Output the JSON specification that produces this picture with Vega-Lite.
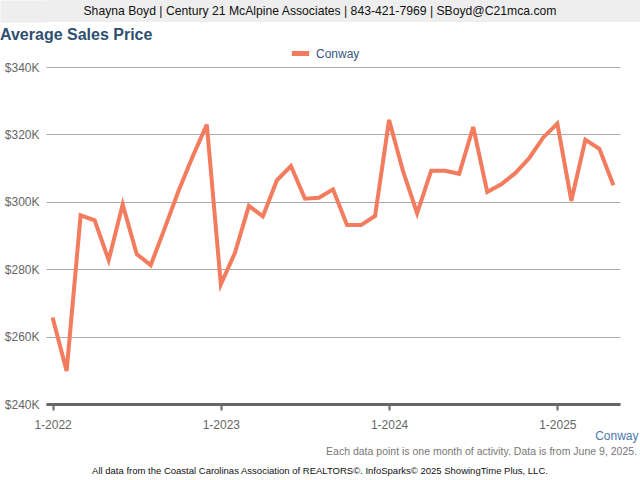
{
  "$schema": "https://vega.github.io/schema/vega-lite/v6.json",
  "padding": 0,
  "columns": 1,
  "align": "none",
  "spacing": 5,
  "config": {
    "view": {"stroke": null},
    "font": "Liberation Sans"
  },
  "concat": [
    {
      "width": 594,
      "height": 22,
      "view": {"fill": "#eeeeee", "stroke": null},
      "data": {"values": [{"t": "Shayna Boyd | Century 21 McAlpine Associates | 843-421-7969 | SBoyd@C21mca.com"}]},
      "mark": {"type": "text", "fontSize": 12.2, "color": "#111111", "dx": -23},
      "encoding": {
        "text": {"field": "t"},
        "y": {
          "datum": 0, "type": "quantitative",
          "scale": {"domain": [-1, 1]},
          "axis": {"labels": false, "ticks": false, "grid": false, "title": null, "domain": true, "domainColor": "#eeeeee", "domainWidth": 46, "offset": 23}
        }
      }
    },
    {
      "width": 574,
      "height": 337,
      "title": {"text": "Average Sales Price", "anchor": "start", "fontSize": 16, "fontWeight": "bold", "color": "#2e4f70", "offset": 18},
      "data": {"values": [
        {"m": "1-2022", "city": "Conway", "v": 265700},
        {"m": "2-2022", "city": "Conway", "v": 249800},
        {"m": "3-2022", "city": "Conway", "v": 296000},
        {"m": "4-2022", "city": "Conway", "v": 294500},
        {"m": "5-2022", "city": "Conway", "v": 282700},
        {"m": "6-2022", "city": "Conway", "v": 299200},
        {"m": "7-2022", "city": "Conway", "v": 284500},
        {"m": "8-2022", "city": "Conway", "v": 281200},
        {"m": "9-2022", "city": "Conway", "v": 292200},
        {"m": "10-2022", "city": "Conway", "v": 303400},
        {"m": "11-2022", "city": "Conway", "v": 313500},
        {"m": "12-2022", "city": "Conway", "v": 322900},
        {"m": "1-2023", "city": "Conway", "v": 275500},
        {"m": "2-2023", "city": "Conway", "v": 284800},
        {"m": "3-2023", "city": "Conway", "v": 298800},
        {"m": "4-2023", "city": "Conway", "v": 295700},
        {"m": "5-2023", "city": "Conway", "v": 306400},
        {"m": "6-2023", "city": "Conway", "v": 310600},
        {"m": "7-2023", "city": "Conway", "v": 300900},
        {"m": "8-2023", "city": "Conway", "v": 301200},
        {"m": "9-2023", "city": "Conway", "v": 303700},
        {"m": "10-2023", "city": "Conway", "v": 293100},
        {"m": "11-2023", "city": "Conway", "v": 293100},
        {"m": "12-2023", "city": "Conway", "v": 295800},
        {"m": "1-2024", "city": "Conway", "v": 324300},
        {"m": "2-2024", "city": "Conway", "v": 309000},
        {"m": "3-2024", "city": "Conway", "v": 296600},
        {"m": "4-2024", "city": "Conway", "v": 309200},
        {"m": "5-2024", "city": "Conway", "v": 309200},
        {"m": "6-2024", "city": "Conway", "v": 308300},
        {"m": "7-2024", "city": "Conway", "v": 322200},
        {"m": "8-2024", "city": "Conway", "v": 302900},
        {"m": "9-2024", "city": "Conway", "v": 305200},
        {"m": "10-2024", "city": "Conway", "v": 308500},
        {"m": "11-2024", "city": "Conway", "v": 313000},
        {"m": "12-2024", "city": "Conway", "v": 319100},
        {"m": "1-2025", "city": "Conway", "v": 323200},
        {"m": "2-2025", "city": "Conway", "v": 300300},
        {"m": "3-2025", "city": "Conway", "v": 318400},
        {"m": "4-2025", "city": "Conway", "v": 315700},
        {"m": "5-2025", "city": "Conway", "v": 304900}
      ]},
      "mark": {"type": "line", "strokeWidth": 4},
      "encoding": {
        "x": {
          "field": "m", "type": "ordinal", "sort": null,
          "scale": {"type": "point", "padding": 0.47},
          "axis": {
            "values": ["1-2022", "1-2023", "1-2024", "1-2025"],
            "labelAngle": 0, "labelColor": "#666666", "labelFontSize": 12, "labelPadding": 9,
            "domainColor": "#666666", "domainWidth": 3,
            "tickColor": "#666666", "tickWidth": 2, "tickSize": 6,
            "grid": false,
            "title": "Conway", "titleColor": "#4a78ab", "titleFontSize": 12, "titleFontWeight": "normal",
            "titleAlign": "right", "titleX": 592, "titlePadding": 0
          }
        },
        "y": {
          "field": "v", "type": "quantitative",
          "scale": {"domain": [240000, 340000], "nice": false, "zero": false},
          "axis": {
            "values": [240000, 260000, 280000, 300000, 320000, 340000],
            "labelExpr": "'$' + (datum.value / 1000) + 'K'",
            "domain": false, "ticks": false, "grid": true, "gridColor": "#aaaaaa", "gridWidth": 1,
            "labelColor": "#666666", "labelFontSize": 12, "labelPadding": 7, "title": null,
            "minExtent": 46
          }
        },
        "color": {
          "field": "city", "type": "nominal",
          "scale": {"range": ["#f47c5e"]},
          "legend": {
            "orient": "none", "legendX": 243, "legendY": 42, "direction": "horizontal", "title": null,
            "labelColor": "#36587c", "labelFontSize": 12, "symbolType": "stroke", "symbolStrokeWidth": 5, "symbolSize": 300
          }
        }
      }
    },
    {
      "width": 594,
      "height": 24,
      "title": {"text": "Each data point is one month of activity. Data is from June 9, 2025.", "anchor": "end", "fontSize": 10.5, "fontWeight": "normal", "color": "#777777", "offset": 2, "dx": -3},
      "data": {"values": [{"t": "All data from the Coastal Carolinas Association of REALTORS©. InfoSparks© 2025 ShowingTime Plus, LLC."}]},
      "mark": {"type": "text", "fontSize": 9.5, "color": "#111111", "dx": -23},
      "encoding": {"text": {"field": "t"}}
    }
  ]
}
